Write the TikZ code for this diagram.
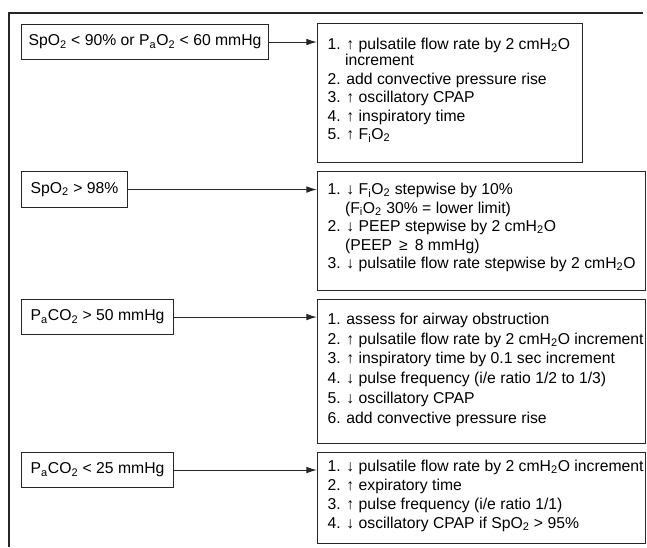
\documentclass[tikz,border=0pt]{standalone}
\usepackage{fontspec}
\setmainfont{Liberation Sans}
\usetikzlibrary{arrows.meta}
\newlength\px
\setlength\px{0.75pt}
\newcommand\lo[1]{\textsubscript{#1}}
\newcommand\ind{\phantom{1.\ }}
% box of fixed size, text from the top: height, width, first baseline, item gap, lines
\newcommand\steps[5]{\parbox[c][#1\px][t]{#2\px}{\raggedright\leftskip=10\px
  \def\gap{#4\px}\rule{0pt}{#3\px}#5}}
\tikzset{
  cond/.style={draw, anchor=north west, inner sep=0pt, minimum height=35\px},
  todo/.style={draw, anchor=north west, inner sep=0pt},
}
\begin{document}
\begin{tikzpicture}[x=0.75pt, y=-0.75pt, font=\fontsize{11.8pt}{12pt}\selectfont,
  line width=0.8pt, draw=black!85, >={Latex[length=8pt,width=5pt]}]
\useasboundingbox (0,0) rectangle (647,547);
% outer frame, cut off at the bottom
\draw (9,547) -- (9,13) -- (643,13);
% conditions
\node[cond, minimum width=247\px] (l1) at (21,24) {SpO\lo2 < 90\% or P\lo aO\lo2 < 60 mmHg};
\node[cond, minimum width=106\px, minimum height=36\px] (l2) at (21,171) {SpO\lo2 > 98\%};
\node[cond, minimum width=152\px] (l3) at (21,299) {P\lo aCO\lo2 > 50 mmHg};
\node[cond, minimum width=152\px] (l4) at (21,452) {P\lo aCO\lo2 < 25 mmHg};
% what to do
\node[todo] (r1) at (317,23) {\steps{139}{265}{26}{2.5}{1. ↑ pulsatile flow rate by 2 cmH\lo2O\\ \ind increment\\[\gap]
  2. add convective pressure rise\\[\gap]
  3. ↑ oscillatory CPAP\\[\gap]
  4. ↑ inspiratory time\\[\gap]
  5. ↑ F\lo iO\lo2}};
\node[todo] (r2) at (317,171) {\steps{119}{328}{23}{2.5}{1. ↓ F\lo iO\lo2 stepwise by 10\%\\[\gap] \ind (F\lo iO\lo2 30\% = lower limit)\\[\gap]
  2. ↓ PEEP stepwise by 2 cmH\lo2O\\[\gap] \ind (PEEP \,≥\, 8 mmHg)\\[\gap]
  3. ↓ pulsatile flow rate stepwise by 2 cmH\lo2O}};
\node[todo] (r3) at (317,299) {\steps{144}{328}{25}{3.7}{1. assess for airway obstruction\\[\gap]
  2. ↑ pulsatile flow rate by 2 cmH\lo2O increment\\[\gap]
  3. ↑ inspiratory time by 0.1 sec increment\\[\gap]
  4. ↓ pulse frequency (i/e ratio 1/2 to 1/3)\\[\gap]
  5. ↓ oscillatory CPAP\\[\gap]
  6. add convective pressure rise}};
\node[todo] (r4) at (317,452) {\steps{91}{328}{19}{3}{1. ↓ pulsatile flow rate by 2 cmH\lo2O increment\\[\gap]
  2. ↑ expiratory time\\[\gap]
  3. ↑ pulse frequency (i/e ratio 1/1)\\[\gap]
  4. ↓ oscillatory CPAP if SpO\lo2 > 95\%}};
\foreach \i in {1,...,4}
  \draw[->] (l\i.east) -- (l\i.east -| r\i.west);
\end{tikzpicture}
\end{document}
